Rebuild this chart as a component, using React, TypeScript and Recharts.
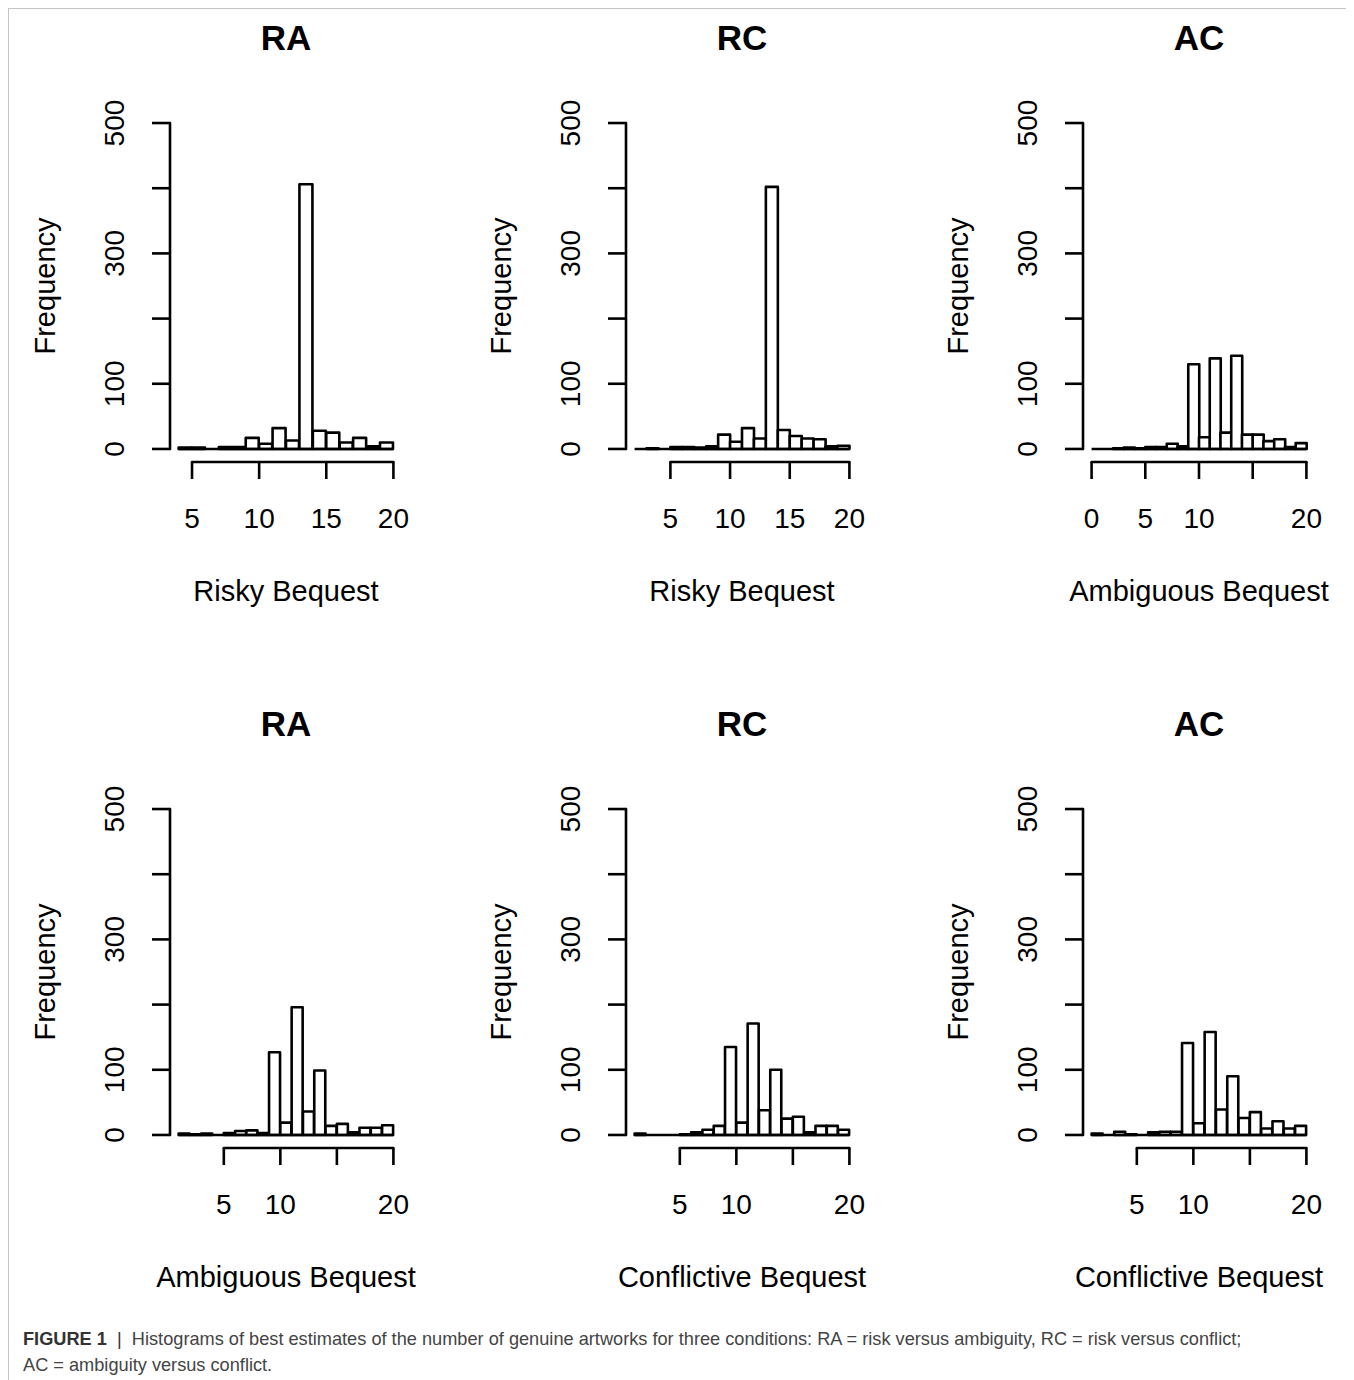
import { ComposedChart, Bar, XAxis, YAxis, ReferenceLine, Label } from 'recharts';

// counts per unit-wide bin, first bin lower edge given separately
const raRiskyStart = 4;
const raRiskyCounts = [2, 2, 0, 3, 3, 17, 8, 32, 13, 406, 28, 25, 10, 17, 4, 10];
const rcRiskyStart = 2;
const rcRiskyCounts = [0, 1, 0, 3, 3, 2, 4, 22, 11, 32, 16, 402, 29, 20, 16, 15, 4, 5];
const acAmbigStart = 0;
const acAmbigCounts = [0, 0, 1, 2, 1, 3, 3, 8, 4, 130, 18, 139, 25, 143, 22, 22, 12, 15, 3, 9];
const raAmbigStart = 1;
const raAmbigCounts = [2, 1, 2, 0, 3, 6, 7, 3, 127, 19, 196, 36, 99, 14, 17, 4, 11, 11, 15];
const rcConfStart = 1;
const rcConfCounts = [2, 0, 0, 0, 1, 4, 8, 14, 135, 19, 171, 38, 100, 25, 28, 4, 14, 14, 8];
const acConfStart = 1;
const acConfCounts = [2, 0, 5, 1, 0, 4, 5, 5, 141, 18, 158, 39, 90, 26, 35, 10, 21, 10, 14];

const yTicks = [0, 100, 200, 300, 400, 500];
const yTickLabels = [0, 100, 300, 500];
const yDomain = [-20, 520];

const ticksFull = [5, 10, 15, 20];
const ticksZero = [0, 5, 10, 15, 20];
const labelsFull = [5, 10, 15, 20];
const labelsZero = [0, 5, 10, 20];
const labelsBottom = [5, 10, 20];

const FONT = '"Liberation Sans", Arial, sans-serif';
const LW = 2.6;
const PLOT_W = 232;
const PLOT_H = 352;
const M_LEFT = 150;
const M_TOP = 100;
const X_AXIS_H = 175;
const M_RIGHT = 60;
const CHART_W = M_LEFT + PLOT_W + M_RIGHT;
const CHART_H = M_TOP + PLOT_H + X_AXIS_H;

interface PanelProps {
    title: string;
    xLabel: string;
    start: number;
    counts: number[];
    xTicks: number[];
    xLabels: number[];
    left: number;
    top: number;
}

const Panel = ({ title, xLabel, start, counts, xTicks, xLabels, left, top }: PanelProps) => {
    const data = counts.map((c, i) => ({ bin: String(start + i), mid: start + i + 0.5, count: c }));
    const end = start + counts.length;
    const range = end - start;
    const lo = start - 0.04 * range;
    const hi = end + 0.04 * range;
    const pad = (PLOT_W * 0.04) / 1.08;

    return (
        <div style={{ position: 'absolute', left, top, width: CHART_W, height: CHART_H }}>
            <div
                style={{
                    position: 'absolute',
                    left: M_LEFT,
                    width: PLOT_W,
                    top: 8,
                    textAlign: 'center',
                    fontFamily: FONT,
                    fontWeight: 'bold',
                    fontSize: 35,
                    lineHeight: '40px',
                    color: '#000',
                }}
            >
                {title}
            </div>
            <ComposedChart
                width={CHART_W}
                height={CHART_H}
                data={data}
                margin={{ top: M_TOP, right: M_RIGHT, bottom: 0, left: 0 }}
                barCategoryGap={0}
                barGap={0}
            >
                <XAxis xAxisId="cat" dataKey="bin" type="category" orientation="top" hide padding={{ left: pad, right: pad }} />
                <XAxis
                    xAxisId="num"
                    dataKey="mid"
                    type="number"
                    domain={[lo, hi]}
                    allowDataOverflow
                    ticks={xTicks}
                    interval={0}
                    height={X_AXIS_H}
                    axisLine={false}
                    tickSize={17}
                    tickMargin={39}
                    tickLine={{ stroke: '#000', strokeWidth: LW }}
                    tick={(p: any) =>
                        xLabels.includes(p.payload.value) ? (
                            <text x={p.x} y={p.y} textAnchor="middle" dominantBaseline="central" fontFamily={FONT} fontSize={28} fill="#000">
                                {p.payload.value}
                            </text>
                        ) : (
                            <g />
                        )
                    }
                >
                    <Label
                        content={(p: any) => {
                            const vb = p.viewBox || { x: M_LEFT, y: M_TOP + PLOT_H, width: PLOT_W };
                            return (
                                <text x={vb.x + vb.width / 2} y={vb.y + 129} textAnchor="middle" dominantBaseline="central" fontFamily={FONT} fontSize={29} fill="#000">
                                    {xLabel}
                                </text>
                            );
                        }}
                    />
                </XAxis>
                <YAxis
                    domain={yDomain}
                    allowDataOverflow
                    ticks={yTicks}
                    interval={0}
                    width={M_LEFT}
                    axisLine={false}
                    tickSize={18}
                    tickMargin={37}
                    tickLine={{ stroke: '#000', strokeWidth: LW }}
                    tick={(p: any) =>
                        yTickLabels.includes(p.payload.value) ? (
                            <text
                                x={p.x}
                                y={p.y}
                                transform={`rotate(-90, ${p.x}, ${p.y})`}
                                textAnchor="middle"
                                dominantBaseline="central"
                                fontFamily={FONT}
                                fontSize={28}
                                fill="#000"
                            >
                                {p.payload.value}
                            </text>
                        ) : (
                            <g />
                        )
                    }
                >
                    <Label
                        content={(p: any) => {
                            const vb = p.viewBox || { x: 0, y: M_TOP, width: M_LEFT, height: PLOT_H };
                            const cx = vb.x + vb.width - 125;
                            const cy = vb.y + vb.height / 2;
                            return (
                                <text x={cx} y={cy} transform={`rotate(-90, ${cx}, ${cy})`} textAnchor="middle" dominantBaseline="central" fontFamily={FONT} fontSize={29} fill="#000">
                                    Frequency
                                </text>
                            );
                        }}
                    />
                </YAxis>
                <Bar xAxisId="cat" dataKey="count" fill="#fff" stroke="#000" strokeWidth={LW} strokeLinejoin="round" isAnimationActive={false} />
                <ReferenceLine
                    xAxisId="num"
                    segment={[{ x: start, y: 0 }, { x: end, y: 0 }]}
                    stroke="#000"
                    strokeWidth={LW}
                    ifOverflow="visible"
                />
                <ReferenceLine
                    xAxisId="num"
                    segment={[{ x: xTicks[0], y: yDomain[0] }, { x: xTicks[xTicks.length - 1], y: yDomain[0] }]}
                    stroke="#000"
                    strokeWidth={LW}
                    strokeLinecap="round"
                    ifOverflow="visible"
                />
                <ReferenceLine
                    xAxisId="num"
                    segment={[{ x: lo, y: yTicks[0] }, { x: lo, y: yTicks[yTicks.length - 1] }]}
                    stroke="#000"
                    strokeWidth={LW}
                    strokeLinecap="round"
                    ifOverflow="visible"
                />
            </ComposedChart>
        </div>
    );
};

const App = () => {
    const colLeft = [11, 467, 924];
    const rowTop = [1, 687];
    return (
        <div
            style={{
                position: 'relative',
                width: 1343,
                height: 1380,
                border: '1px solid #c4c4c4',
                borderBottom: 'none',
                background: '#fff',
            }}
        >
            <Panel title="RA" xLabel="Risky Bequest" start={raRiskyStart} counts={raRiskyCounts} xTicks={ticksFull} xLabels={labelsFull} left={colLeft[0]} top={rowTop[0]} />
            <Panel title="RC" xLabel="Risky Bequest" start={rcRiskyStart} counts={rcRiskyCounts} xTicks={ticksFull} xLabels={labelsFull} left={colLeft[1]} top={rowTop[0]} />
            <Panel title="AC" xLabel="Ambiguous Bequest" start={acAmbigStart} counts={acAmbigCounts} xTicks={ticksZero} xLabels={labelsZero} left={colLeft[2]} top={rowTop[0]} />
            <Panel title="RA" xLabel="Ambiguous Bequest" start={raAmbigStart} counts={raAmbigCounts} xTicks={ticksFull} xLabels={labelsBottom} left={colLeft[0]} top={rowTop[1]} />
            <Panel title="RC" xLabel="Conflictive Bequest" start={rcConfStart} counts={rcConfCounts} xTicks={ticksFull} xLabels={labelsBottom} left={colLeft[1]} top={rowTop[1]} />
            <Panel title="AC" xLabel="Conflictive Bequest" start={acConfStart} counts={acConfCounts} xTicks={ticksFull} xLabels={labelsBottom} left={colLeft[2]} top={rowTop[1]} />
            <div
                style={{
                    position: 'absolute',
                    left: 14,
                    top: 1317,
                    width: 1320,
                    fontFamily: FONT,
                    fontSize: 18.2,
                    lineHeight: '26px',
                    color: '#444',
                }}
            >
                <span style={{ fontWeight: 'bold', color: '#333' }}>FIGURE 1</span>
                <span style={{ color: '#333' }}>{'\u00a0\u00a0|\u00a0\u00a0'}</span>
                Histograms of best estimates of the number of genuine artworks for three conditions: RA = risk versus ambiguity, RC = risk versus conflict;
                <br />
                AC = ambiguity versus conflict.
            </div>
        </div>
    );
};

export default App;
